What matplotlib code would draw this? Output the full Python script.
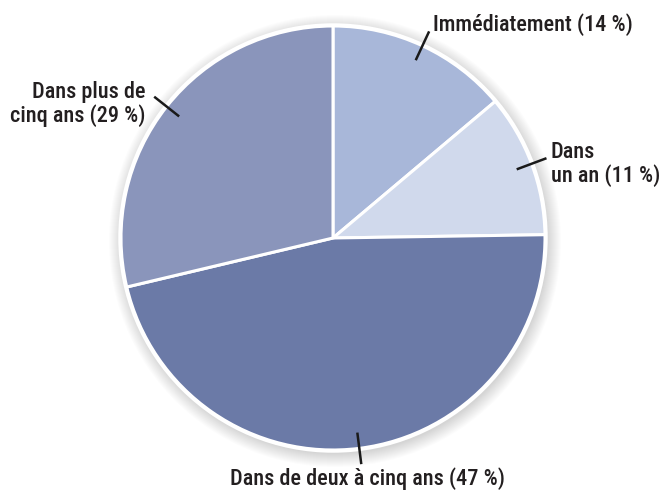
import numpy as np
import matplotlib.pyplot as plt
from matplotlib.patches import Circle

labels = ["Immédiatement (14 %)", "Dans\nun an (11 %)",
          "Dans de deux à cinq ans (47 %)", "Dans plus de\ncinq ans (29 %)"]
shares = [14, 11, 47, 29]
colors = ["#a8b7d9", "#d0d9ec", "#6b7aa7", "#8a95bb"]

W, H = 667, 495
CX, CY, R = 333, H - 238, 212

plt.rcParams["font.family"] = ["Roboto Condensed", "DejaVu Sans"]

fig = plt.figure(figsize=(W / 100, H / 100), dpi=100)
ax = fig.add_axes([0, 0, 1, 1])

# soft shadow around the pie
for k in range(14):
    ax.add_patch(Circle((CX + 2, CY - 3), R + 14 - k, color="#000000",
                        alpha=0.012, lw=0, zorder=0))

wedges, _ = ax.pie(shares, colors=colors, startangle=90, counterclock=False,
                   center=(CX, CY), radius=R, frame=True,
                   wedgeprops=dict(edgecolor="white", linewidth=2.2))
ax.add_patch(Circle((CX, CY), R + 1, fill=False, ec="white", lw=2.5, zorder=3))
ax.set_xlim(0, W)
ax.set_ylim(0, H)
ax.set_aspect("equal")
ax.axis("off")

# leader lines along each wedge's mid angle
for w in wedges:
    a = np.deg2rad((w.theta1 + w.theta2) / 2)
    r0, r1 = 0.925 * R, 1.075 * R
    ax.plot([CX + r0 * np.cos(a), CX + r1 * np.cos(a)],
            [CY + r0 * np.sin(a), CY + r1 * np.sin(a)],
            color="#1a1a1a", lw=1.8, zorder=4, solid_capstyle="butt")

txt = dict(fontsize=16, fontweight="medium", color="#231f20",
           linespacing=1.05, zorder=5)
ax.text(433, H - 25, labels[0], ha="left", va="center", **txt)
ax.text(551, H - 164, labels[1], ha="left", va="center", **txt)
ax.text(368, H - 479, labels[2], ha="center", va="center", **txt)
ax.text(145, H - 104, labels[3], ha="right", va="center", multialignment="right", **txt)

fig.savefig("out.png", dpi=100)
